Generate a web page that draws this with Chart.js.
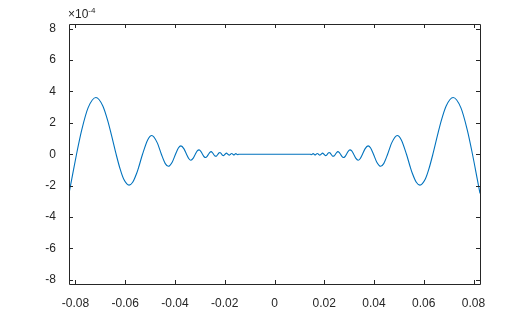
<!DOCTYPE html>
<html>
<head>
<meta charset="utf-8">
<script src="https://cdn.jsdelivr.net/npm/chart.js@4.4.1/dist/chart.umd.min.js"></script>
<style>
	html, body { margin: 0; padding: 0; background: #fff; }
	#wrap { width: 532px; height: 320px; }
</style>
</head>
<body>
<div id="wrap"><canvas id="chart" width="532" height="320"></canvas></div>
<script>
// Curve samples (y in units of 1e-4), one row per lobe.
var xValues = [
	-0.0826, -0.0815, -0.07958,
	-0.0775, -0.0749, -0.07179, -0.0690, -0.06701, -0.0655, -0.06366,
	-0.0620, -0.06063, -0.05846, -0.0570, -0.05536, -0.0545, -0.05305,
	-0.05093, -0.04932, -0.04716, -0.04547,
	-0.0439, -0.04267, -0.04107, -0.03979,
	-0.03858, -0.03761, -0.03638, -0.03537,
	-0.03441, -0.03362, -0.03265, -0.03183,
	-0.03105, -0.03032, -0.02961, -0.02894,
	-0.02829, -0.02768, -0.02709, -0.02653,
	-0.02598, -0.02546, -0.02497, -0.02449,
	-0.02402, -0.02358, -0.02315, -0.02274,
	-0.02234, -0.02195, -0.02158, -0.02122,
	-0.02087, -0.02054, -0.02021, -0.01989,
	-0.01929, -0.01872, -0.01819, -0.01768, -0.01721, -0.01675,
	-0.01632, -0.01592, -0.01553, -0.01516, -0.01481, -0.01447,
	0,
	0.01447, 0.01481, 0.01516, 0.01553, 0.01592, 0.01632,
	0.01675, 0.01721, 0.01768, 0.01819, 0.01872, 0.01929,
	0.01989, 0.02021, 0.02054, 0.02087,
	0.02122, 0.02158, 0.02195, 0.02234,
	0.02274, 0.02315, 0.02358, 0.02402,
	0.02449, 0.02497, 0.02546, 0.02598,
	0.02653, 0.02709, 0.02768, 0.02829,
	0.02894, 0.02961, 0.03032, 0.03105,
	0.03183, 0.03265, 0.03362, 0.03441,
	0.03537, 0.03638, 0.03761, 0.03858,
	0.03979, 0.04107, 0.04267, 0.0439,
	0.04547, 0.04716, 0.04932, 0.05093,
	0.05305, 0.0545, 0.05536, 0.0570, 0.05846, 0.06063, 0.0620,
	0.06366, 0.0655, 0.06701, 0.0690, 0.07179, 0.0749, 0.0775,
	0.07958, 0.0815, 0.0826
];
var yValues = [
	-2.50, -1.58, 0,
	1.54, 2.97, 3.62, 3.08, 2.13, 1.20, 0,
	-0.97, -1.58, -1.97, -1.79, -1.20, -0.78, 0,
	0.93, 1.19, 0.74, 0,
	-0.60, -0.77, -0.49, 0,
	0.41, 0.53, 0.34, 0,
	-0.29, -0.38, -0.25, 0,
	0.212, 0.279, 0.184, 0,
	-0.160, -0.212, -0.141, 0,
	0.124, 0.165, 0.110, 0,
	-0.098, -0.131, -0.088, 0,
	0.079, 0.106, 0.071, 0,
	-0.064, -0.087, -0.058, 0,
	0.072, 0, -0.060, 0, 0.051, 0,
	-0.044, 0, 0.037, 0, -0.033, 0,
	0,
	0, -0.033, 0, 0.037, 0, -0.044,
	0, 0.051, 0, -0.060, 0, 0.072,
	0, -0.058, -0.087, -0.064,
	0, 0.071, 0.106, 0.079,
	0, -0.088, -0.131, -0.098,
	0, 0.110, 0.165, 0.124,
	0, -0.141, -0.212, -0.160,
	0, 0.184, 0.279, 0.212,
	0, -0.25, -0.38, -0.29,
	0, 0.34, 0.53, 0.41,
	0, -0.49, -0.77, -0.60,
	0, 0.74, 1.19, 0.93,
	0, -0.78, -1.20, -1.79, -1.97, -1.58, -0.97,
	0, 1.20, 2.13, 3.08, 3.62, 2.97, 1.54,
	0, -1.58, -2.50
];
var xTicks = [ -0.08, -0.06, -0.04, -0.02, 0, 0.02, 0.04, 0.06, 0.08 ];
var yTicks = [ -8, -6, -4, -2, 0, 2, 4, 6, 8 ];
var xTickLabels = [ '-0.08', '-0.06', '-0.04', '-0.02', '0', '0.02', '0.04', '0.06', '0.08' ];
var yTickLabels = [ '-8', '-6', '-4', '-2', '0', '2', '4', '6', '8' ];

var textColor = '#262626';
var fontFamily = '"Liberation Sans", Arial, Helvetica, sans-serif';

var points = xValues.map( function ( x, i ) {
	return { x: x, y: yValues[ i ] };
} );

// Box, inward ticks on all four sides and the exponent label.
var axesBox = {
	id: 'axesBox',
	afterDraw: function ( chart ) {
		var ctx = chart.ctx;
		var a = chart.chartArea;
		var xs = chart.scales.x;
		var ys = chart.scales.y;
		var len = 4;
		ctx.save();
		ctx.strokeStyle = textColor;
		ctx.lineWidth = 1;
		ctx.beginPath();
		ctx.rect( Math.round( a.left ) + 0.5, Math.round( a.top ) + 0.5,
			Math.round( a.right - a.left ), Math.round( a.bottom - a.top ) );
		xTicks.forEach( function ( v ) {
			var px = Math.round( xs.getPixelForValue( v ) ) + 0.5;
			ctx.moveTo( px, a.bottom );
			ctx.lineTo( px, a.bottom - len );
			ctx.moveTo( px, a.top );
			ctx.lineTo( px, a.top + len );
		} );
		yTicks.forEach( function ( v ) {
			var py = Math.round( ys.getPixelForValue( v ) ) + 0.5;
			ctx.moveTo( a.left, py );
			ctx.lineTo( a.left + len, py );
			ctx.moveTo( a.right, py );
			ctx.lineTo( a.right - len, py );
		} );
		ctx.stroke();

		ctx.fillStyle = textColor;
		ctx.textBaseline = 'alphabetic';
		ctx.textAlign = 'left';
		ctx.font = '12px ' + fontFamily;
		ctx.fillText( '\u00d710', a.left - 1, 18 );
		var w = ctx.measureText( '\u00d710' ).width;
		ctx.font = '8px ' + fontFamily;
		ctx.fillText( '-4', a.left - 1 + w, 13 );
		ctx.restore();
	}
};

new Chart( document.getElementById( 'chart' ).getContext( '2d' ), {
	type: 'line',
	data: {
		datasets: [ {
			data: points,
			borderColor: '#0072BD',
			borderWidth: 1.1,
			pointRadius: 0,
			fill: false,
			cubicInterpolationMode: 'monotone'
		} ]
	},
	options: {
		responsive: false,
		animation: false,
		events: [],
		layout: { padding: { left: 0, top: 24, right: 52, bottom: 0 } },
		plugins: {
			legend: { display: false },
			tooltip: { enabled: false }
		},
		scales: {
			x: {
				type: 'linear',
				min: -0.0826,
				max: 0.0826,
				grid: { display: false },
				border: { display: false },
				afterFit: function ( scale ) { scale.height = 36; },
				afterBuildTicks: function ( scale ) {
					scale.ticks = xTicks.map( function ( v ) { return { value: v }; } );
				},
				ticks: {
					autoSkip: false,
					maxRotation: 0,
					padding: 4,
					color: textColor,
					font: { family: fontFamily, size: 12 },
					callback: function ( v ) {
						var i = xTicks.indexOf( v );
						return i >= 0 ? xTickLabels[ i ] : '';
					}
				}
			},
			y: {
				min: -8.27,
				max: 8.3,
				grid: { display: false },
				border: { display: false },
				afterFit: function ( scale ) { scale.width = 69; },
				afterBuildTicks: function ( scale ) {
					scale.ticks = yTicks.map( function ( v ) { return { value: v }; } );
				},
				ticks: {
					autoSkip: false,
					padding: 5,
					color: textColor,
					font: { family: fontFamily, size: 12 },
					callback: function ( v ) {
						var i = yTicks.indexOf( v );
						return i >= 0 ? yTickLabels[ i ] : '';
					}
				}
			}
		}
	},
	plugins: [ axesBox ]
} );
</script>
</body>
</html>
